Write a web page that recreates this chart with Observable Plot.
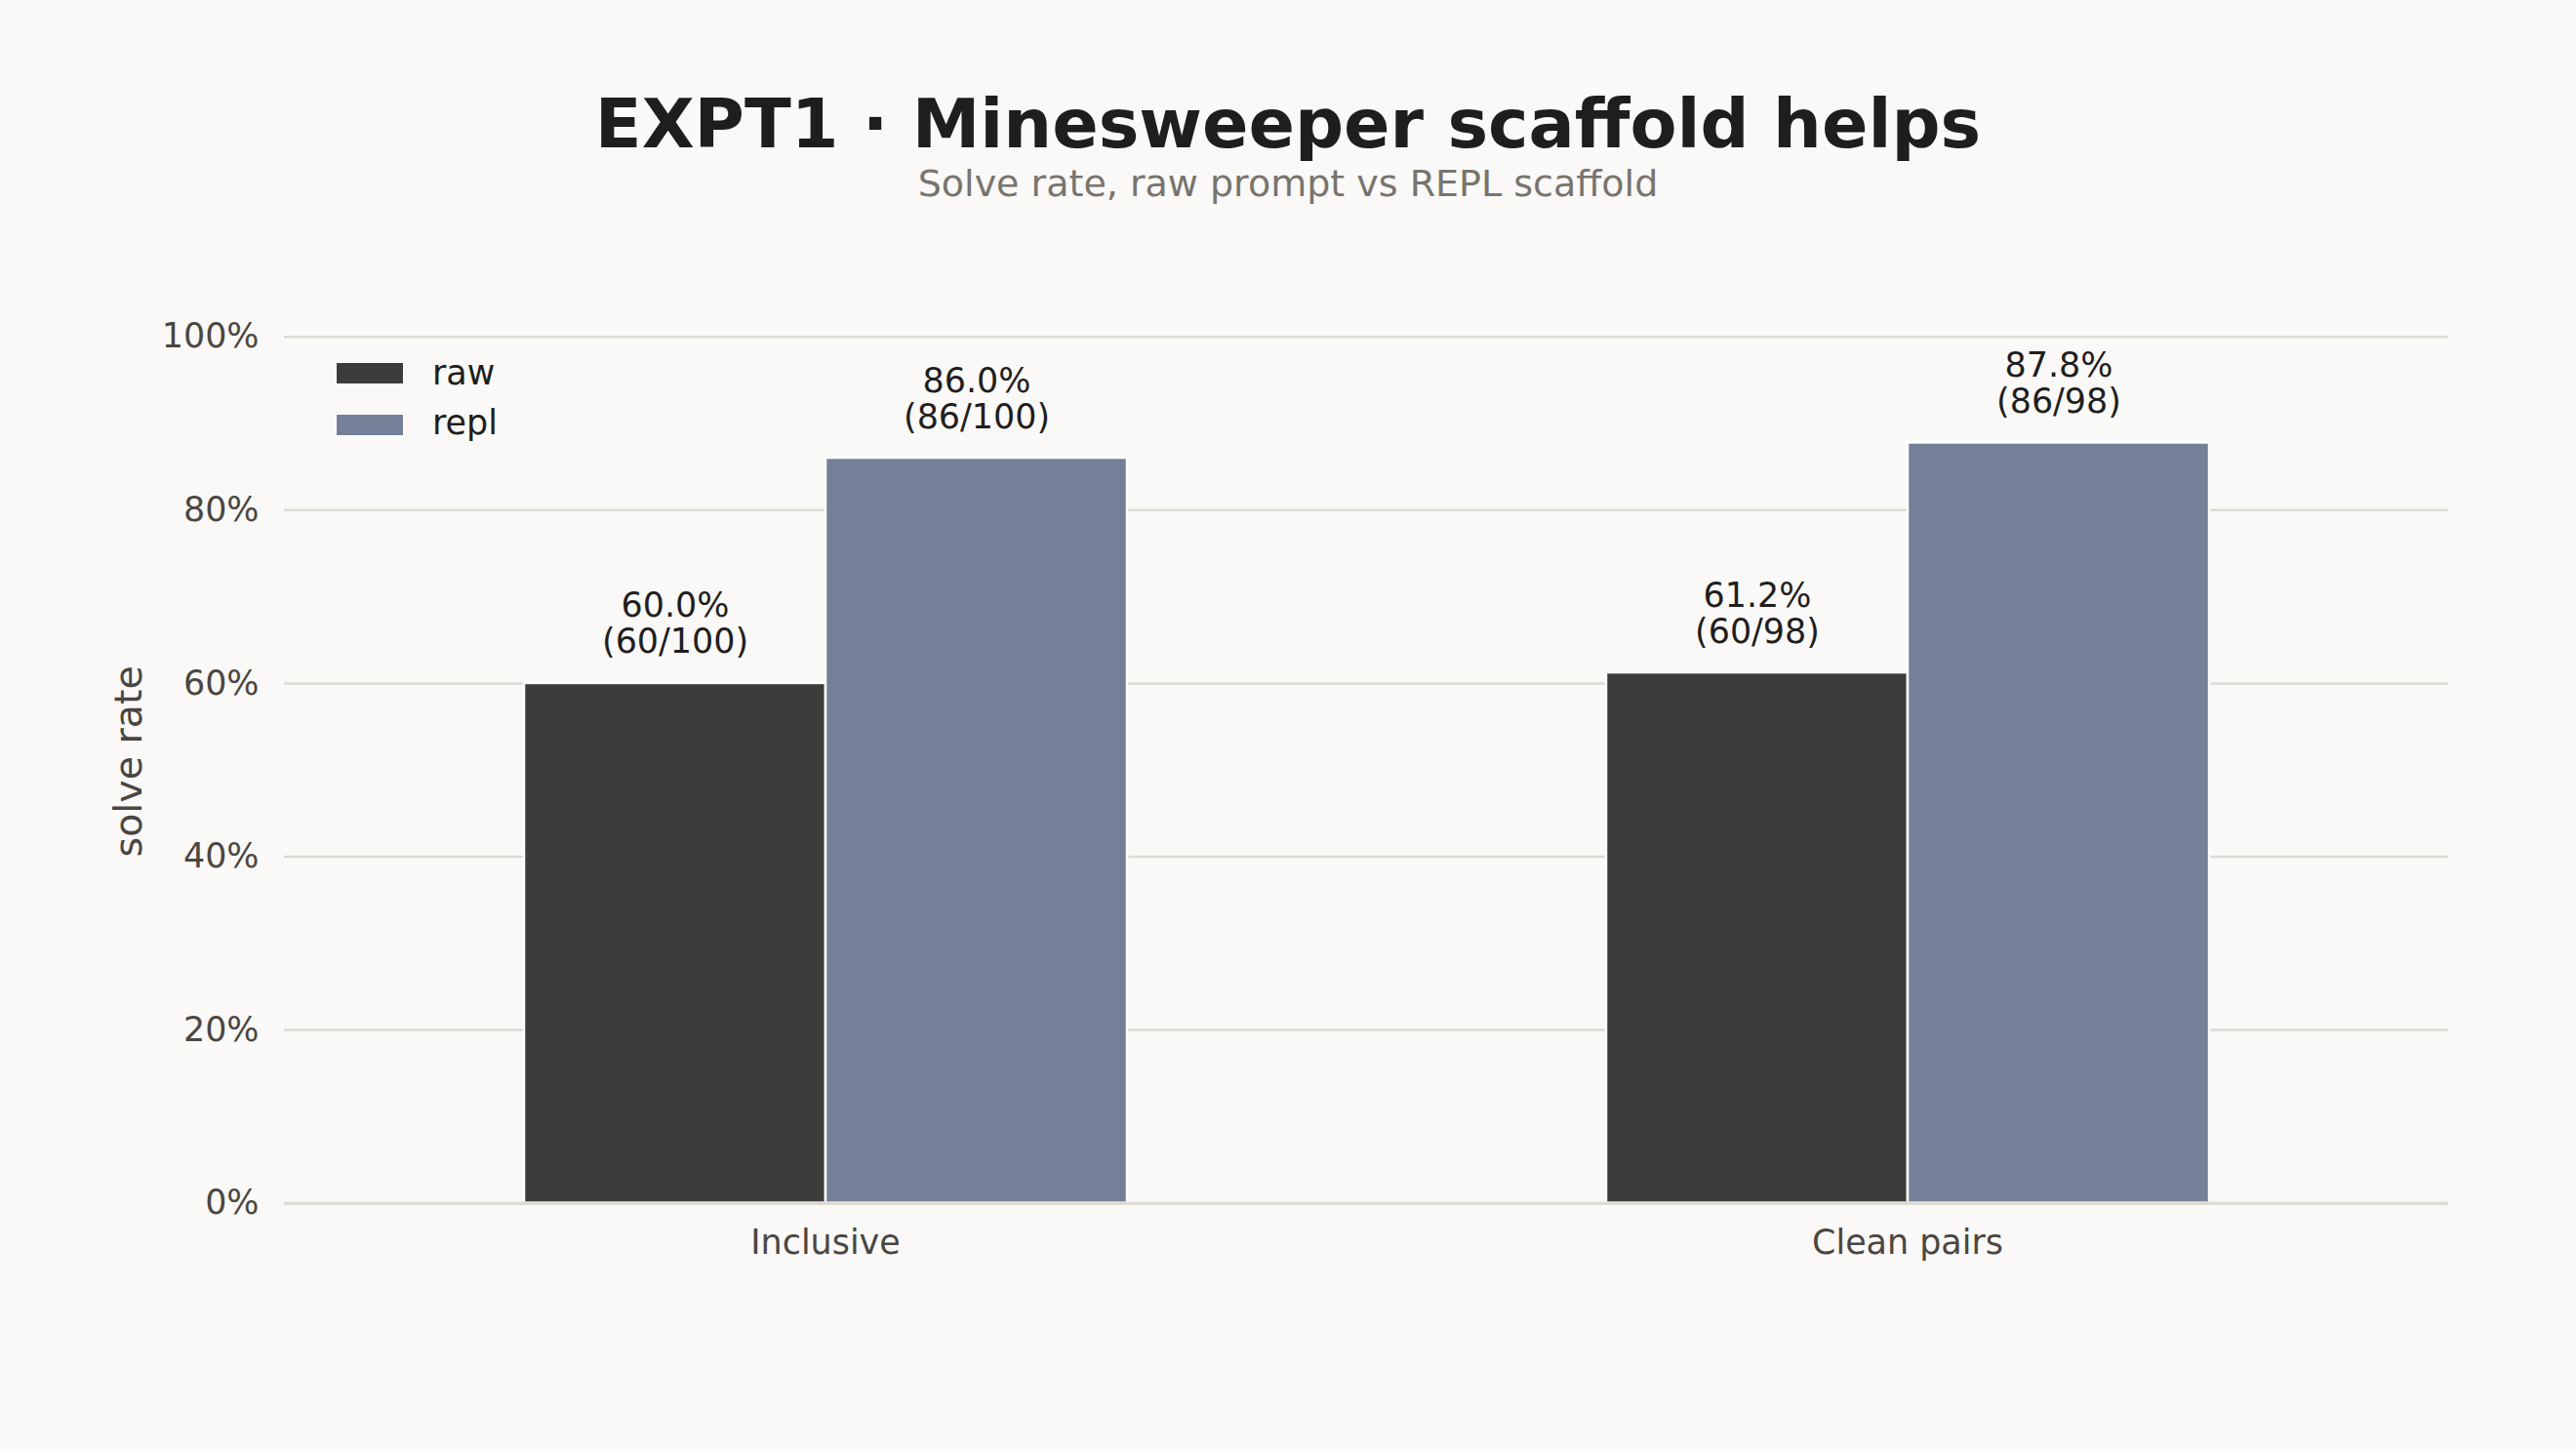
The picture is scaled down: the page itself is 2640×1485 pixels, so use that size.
<!DOCTYPE html>
<html>
<head>
<meta charset="utf-8">
<script src="https://cdn.jsdelivr.net/npm/d3@7"></script>
<script src="https://cdn.jsdelivr.net/npm/@observablehq/plot@0.6"></script>
<style>
html, body { margin: 0; padding: 0; background: #faf9f7; }
#page { position: relative; width: 2640px; height: 1485px; background: #faf9f7; font-family: "DejaVu Sans", sans-serif; overflow: hidden; }
#header { position: relative; height: 260px; }
#title { position: absolute; left: 0; width: 2640px; top: 85.8px; text-align: center; font-size: 70px; font-weight: bold; color: #1f1e1d; line-height: normal; white-space: nowrap; }
#subtitle { position: absolute; left: 0; width: 2640px; top: 165.5px; text-align: center; font-size: 38px; color: #78746e; line-height: normal; white-space: nowrap; }
#chart svg { display: block; }
.sw { position: absolute; left: 344px; width: 70px; height: 23px; box-sizing: border-box; border: 1.5px solid #ffffff; }
.lab { position: absolute; left: 443px; font-size: 34.9px; line-height: normal; color: #1f1e1d; white-space: nowrap; }
g[aria-label="y-axis label"] text { font-size: 39.5px; }
</style>
</head>
<body>
<div id="page">
  <div id="header">
    <div id="title">EXPT1 · Minesweeper scaffold helps</div>
    <div id="subtitle">Solve rate, raw prompt vs REPL scaffold</div>
  </div>
  <div id="chart"></div>
  <div id="legend"></div>
</div>
<script>
// ---- data ----
const categories = ["Inclusive", "Clean pairs"];
const series = ["raw", "repl"];
const rawSolved = [60, 60];
const replSolved = [86, 86];
const totals = [100, 98];
const yTicks = [0, 0.2, 0.4, 0.6, 0.8, 1.0];
const seriesColors = ["#3d3c3a", "#748098"];

const rows = categories.flatMap((c, i) => [
  {category: c, series: "raw", solved: rawSolved[i], total: totals[i], rate: rawSolved[i] / totals[i]},
  {category: c, series: "repl", solved: replSolved[i], total: totals[i], rate: replSolved[i] / totals[i]}
]);

const chart = Plot.plot({
  width: 2640,
  height: 1225,
  marginLeft: 290,
  marginRight: 131,
  marginTop: 67,
  marginBottom: 252.3,
  style: {fontFamily: "DejaVu Sans", fontSize: "34.9px", color: "#4a4642", background: "transparent", overflow: "visible"},
  fx: {domain: categories, padding: 0, label: null},
  x: {domain: series, paddingInner: 0, paddingOuter: 0.79, axis: null},
  y: {domain: [0, 1.02], axis: null},
  color: {domain: series, range: seriesColors},
  marks: [
    Plot.gridY(yTicks, {stroke: "#dedad4", strokeOpacity: 1, strokeWidth: 2.5}),
    Plot.barY(rows, {fx: "category", x: "series", y: "rate", fill: "series", stroke: "#ffffff", strokeWidth: 2.5}),
    Plot.ruleY([0], {stroke: "#dedad4", strokeWidth: 3.5}),
    Plot.text(rows, {
      fx: "category", x: "series", y: "rate",
      text: d => `${(d.rate * 100).toFixed(1)}%\n(${d.solved}/${d.total})`,
      lineAnchor: "bottom", lineHeight: 1.06, dy: -31,
      fill: "#1f1e1d", fontSize: 34.9
    }),
    Plot.axisY({
      ticks: yTicks, tickFormat: d => `${Math.round(d * 100)}%`,
      tickSize: 0, tickPadding: 26, fontSize: 34.9,
      label: "solve rate", labelAnchor: "center", labelOffset: 175, labelArrow: "none"
    }),
    Plot.axisFx({anchor: "bottom", tickSize: 0, tickPadding: 27, label: null, fontSize: 34.9})
  ]
});
document.getElementById("chart").appendChild(chart);

// legend (inside plot area, top-left)
const legend = document.getElementById("legend");
const legendTops = [371, 424];
const labelTops = [361.5, 413];
series.forEach((s, i) => {
  const sw = document.createElement("div");
  sw.className = "sw";
  sw.style.top = legendTops[i] + "px";
  sw.style.background = seriesColors[i];
  legend.appendChild(sw);
  const lab = document.createElement("div");
  lab.className = "lab";
  lab.style.top = labelTops[i] + "px";
  lab.textContent = s;
  legend.appendChild(lab);
});
</script>
</body>
</html>
